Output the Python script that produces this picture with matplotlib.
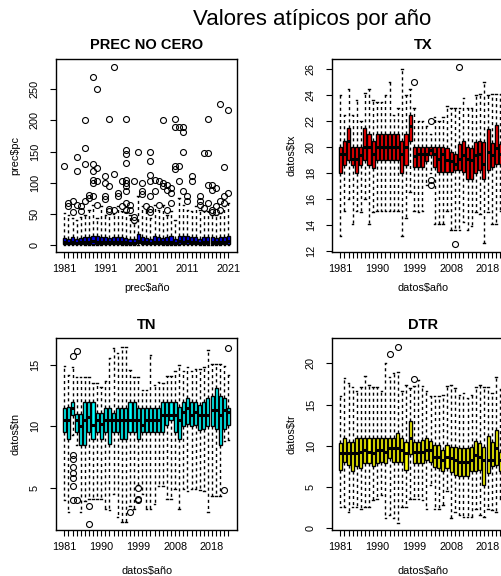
import matplotlib
matplotlib.use("Agg")
import matplotlib.pyplot as plt

plt.rcParams['font.family'] = ['Liberation Sans', 'DejaVu Sans']

# ---- datos ----
# PREC NO CERO: 1981-2021
prec_years = list(range(1981, 2022))
prec_lo = [0.1, 0.1, 0.2, 0.1, 0.1, 0.1, 0.2, 0.1, 0.1, 0.1, 0.1, 0.2, 0.1, 0.1, 0.1, 0.1, 0.2, 0.1, 0.1, 0.1, 0.1,
           0.1, 0.2, 0.1, 0.1, 0.1, 0.1, 0.2, 0.1, 0.1, 0.1, 0.1, 0.1, 0.2, 0.1, 0.1, 0.1, 0.1, 0.1, 0.2, 0.1]
prec_q1 = [1.5, 1.5, 2.0, 1.5, 1.5, 2.0, 2.0, 2.0, 2.0, 1.5, 2.0, 1.5, 1.5, 2.0, 1.5, 1.5, 1.5, 1.5, 2.5, 2.0, 1.5,
           1.5, 2.0, 1.5, 1.5, 2.0, 2.0, 1.5, 2.0, 2.0, 2.0, 2.0, 1.5, 1.5, 1.5, 2.0, 1.5, 1.5, 1.5, 2.0, 2.0]
prec_med = [4.0, 3.5, 4.5, 3.5, 4.0, 5.0, 4.5, 5.5, 5.0, 4.5, 5.0, 4.0, 4.5, 5.0, 4.5, 4.0, 3.5, 3.5, 6.0, 5.0, 4.0,
            3.5, 5.0, 4.5, 4.0, 5.0, 5.0, 3.5, 5.5, 5.0, 5.5, 5.0, 4.5, 3.5, 4.5, 5.0, 4.5, 4.0, 4.5, 5.0, 5.5]
prec_q3 = [11, 10, 12, 10, 11, 13, 12, 15, 14, 12, 13, 11, 12, 13, 12, 11, 10, 9, 17, 13, 11,
           10, 14, 12, 11, 13, 14, 10, 15, 14, 15, 13, 12, 10, 12, 13, 12, 11, 12, 13, 15]
prec_hi = [51, 48, 43, 40, 45, 48, 56, 64, 43, 62, 48, 50, 50, 62, 54, 52, 48, 35, 78, 62, 56,
           43, 64, 56, 64, 48, 54, 40, 75, 64, 56, 54, 62, 56, 55, 54, 48, 48, 51, 62, 67]
prec_out = {
    1981: [126], 1982: [68, 63], 1983: [71, 52], 1984: [119, 141, 64], 1985: [62, 55],
    1986: [200, 155, 130, 70], 1987: [80, 75], 1988: [270, 130, 118, 104, 100, 79],
    1989: [250, 124, 102, 64], 1991: [111, 99, 78, 73], 1992: [203, 94, 58, 54],
    1993: [286, 114, 56], 1994: [83, 78], 1995: [102, 63],
    1996: [203, 153, 146, 132, 105, 100, 94, 87, 67, 56], 1997: [64, 56], 1998: [102, 45, 40],
    1999: [150], 2000: [100, 86, 81], 2001: [63], 2002: [150, 135, 112, 102, 78, 58, 52],
    2003: [105, 86], 2004: [102, 64], 2005: [200, 99, 94], 2006: [96, 88, 56], 2007: [91, 83, 68],
    2008: [202, 190, 126, 122], 2009: [190, 126, 102], 2010: [190, 182, 150, 86], 2011: [78, 71],
    2012: [111, 102], 2014: [78, 70, 64], 2015: [148, 59], 2016: [202, 148, 96, 67],
    2017: [96, 88, 56, 52], 2018: [91, 62, 52], 2019: [226, 71, 56], 2020: [125, 78, 67], 2021: [217, 83],
}

# TX, TN, DTR: 41 anos (1981-2022, falta 2012)
t_years = list(range(1981, 2012)) + list(range(2013, 2023))

tx_lo = [13.1, 15.1, 16.0, 14.1, 15.1, 15.0, 16.0, 14.1, 15.0, 15.1, 15.1, 15.1, 15.1, 15.1, 15.1, 13.1, 14.5,
         16.5, 15.1, 15.0, 15.1, 17.1, 18.0, 14.1, 14.1, 14.1, 15.1, 13.6, 13.6, 13.6, 14.2, 13.6, 13.9, 15.0,
         14.8, 12.6, 15.0, 14.1, 14.1, 15.1, 15.0]
tx_q1 = [18.0, 18.6, 19.0, 18.6, 18.0, 18.6, 19.0, 18.6, 18.4, 19.0, 19.0, 19.0, 19.0, 19.0, 19.0, 18.0, 18.6,
         20.5, 18.5, 18.5, 18.5, 18.9, 19.4, 18.5, 18.1, 18.1, 18.1, 18.1, 18.2, 18.2, 18.1, 17.5, 17.5, 18.0,
         18.2, 17.5, 18.2, 18.5, 18.7, 18.7, 18.5]
tx_med = [19.5, 19.5, 20.5, 19.1, 19.1, 19.4, 20.0, 20.0, 19.5, 20.0, 20.0, 20.0, 20.0, 20.0, 20.0, 19.5, 20.0,
          21.6, 19.3, 19.5, 19.5, 19.5, 19.8, 19.5, 19.1, 19.5, 19.0, 18.9, 18.7, 19.1, 19.4, 19.1, 19.0, 19.4,
          19.5, 18.7, 19.6, 19.4, 19.9, 19.5, 19.5]
tx_q3 = [20.0, 20.5, 21.5, 20.0, 20.0, 20.0, 21.5, 21.0, 20.5, 21.0, 21.0, 21.0, 21.0, 21.0, 21.0, 20.5, 21.0,
         22.5, 20.0, 20.0, 20.0, 20.0, 20.0, 20.0, 20.0, 20.0, 19.9, 19.6, 19.5, 20.2, 20.5, 20.0, 19.9, 20.4,
         20.5, 20.4, 21.4, 20.3, 21.7, 20.2, 20.5]
tx_hi = [24.0, 22.5, 24.5, 22.5, 23.6, 22.0, 24.2, 24.5, 23.6, 23.5, 23.5, 24.0, 25.0, 22.5, 23.0, 26.0, 24.0,
         24.5, 23.0, 22.0, 22.0, 21.6, 21.0, 22.3, 22.0, 22.3, 23.2, 23.0, 23.0, 23.0, 23.8, 23.0, 23.0, 24.0,
         24.1, 25.0, 24.0, 24.1, 24.1, 24.1, 24.0]
tx_out = {1999: [25.0], 2003: [22.0, 17.45, 17.1], 2009: [12.5], 2010: [26.2]}

tn_lo = [4.0, 3.0, 9.3, 8.5, 3.0, 3.9, 4.1, 4.1, 4.1, 4.1, 3.3, 3.2, 4.5, 2.6, 2.2, 2.2, 3.5, 3.3, 5.2, 4.5,
         3.3, 3.3, 3.7, 5.1, 5.1, 4.1, 4.1, 4.9, 3.3, 4.9, 4.7, 4.9, 4.9, 4.8, 4.7, 3.0, 4.3, 4.3, 4.3, 8.8, 8.9]
tn_q1 = [9.55, 9.0, 10.9, 9.5, 8.5, 8.5, 9.55, 9.0, 9.55, 9.0, 9.55, 8.6, 9.5, 9.55, 9.0, 9.0, 9.55, 9.55, 9.0,
         9.55, 9.55, 9.55, 9.55, 9.55, 9.55, 10.1, 10.5, 9.55, 9.0, 10.0, 10.2, 10.0, 10.1, 9.7, 9.8, 10.0,
         10.0, 9.8, 8.5, 9.8, 10.1]
tn_med = [10.5, 10.5, 11.5, 10.5, 10.0, 10.5, 10.8, 10.1, 10.5, 10.2, 10.5, 10.5, 10.5, 10.5, 10.5, 10.5, 10.5,
          10.5, 10.5, 10.1, 10.5, 10.5, 10.5, 10.5, 10.9, 10.9, 10.9, 10.9, 10.5, 11.2, 11.5, 10.9, 11.2, 10.9,
          10.9, 10.9, 11.3, 11.3, 10.9, 11.3, 11.2]
tn_q3 = [11.5, 11.6, 12.0, 11.0, 11.0, 12.0, 12.0, 12.0, 11.1, 11.1, 11.5, 11.5, 11.1, 11.5, 11.5, 11.5, 12.0,
         12.0, 11.5, 11.5, 11.5, 11.5, 11.5, 11.5, 12.0, 12.0, 12.0, 12.0, 11.6, 12.0, 12.3, 12.0, 12.0, 11.7,
         12.0, 12.3, 12.5, 13.1, 12.5, 12.3, 11.5]
tn_hi = [14.9, 14.2, 14.8, 14.0, 14.0, 14.0, 14.0, 13.5, 13.5, 13.2, 13.7, 15.6, 16.4, 16.0, 16.5, 16.5, 14.6,
         14.0, 14.0, 13.0, 13.0, 15.8, 13.4, 13.6, 13.5, 14.1, 14.1, 14.5, 15.0, 14.5, 14.8, 14.5, 14.7, 14.7,
         14.8, 16.2, 15.1, 15.1, 15.1, 14.9, 14.2]
tn_out = {1983: [15.7, 7.7, 7.3, 6.7, 6.2, 5.8, 5.1, 4.0], 1984: [16.1, 4.0], 1987: [3.5, 2.0],
          1997: [3.0], 1999: [5.0, 4.1, 4.0], 2021: [4.8], 2022: [16.4]}

dtr_lo = [2.6, 2.6, 2.0, 2.6, 2.6, 2.4, 2.6, 2.6, 3.4, 3.6, 4.0, 1.2, 1.6, 1.2, 0.6, 2.6, 2.6, 3.5, 3.6, 3.6,
          3.4, 2.4, 5.3, 2.4, 2.4, 2.8, 4.5, 1.2, 2.0, 1.6, 1.4, 1.4, 1.4, 2.4, 1.6, 1.4, 2.4, 2.2, 2.0, 3.6, 2.5]
dtr_q1 = [7.1, 8.1, 7.7, 6.9, 7.5, 7.3, 7.9, 7.9, 7.5, 7.9, 8.1, 7.9, 8.5, 8.1, 8.1, 8.1, 7.1, 9.0, 7.9, 7.9,
          7.9, 8.3, 8.1, 7.4, 7.3, 6.9, 7.3, 6.8, 6.5, 6.3, 6.3, 6.3, 6.9, 6.9, 7.1, 5.3, 6.7, 7.5, 7.7, 6.9, 7.0]
dtr_med = [9.1, 9.1, 9.1, 9.1, 9.1, 9.3, 9.5, 9.3, 9.1, 9.5, 9.5, 9.3, 9.7, 9.7, 9.7, 9.5, 9.1, 11.0, 9.3, 9.3,
           9.3, 9.5, 9.5, 8.7, 8.7, 8.3, 8.7, 8.5, 8.3, 8.1, 8.1, 8.1, 8.3, 8.9, 8.7, 8.3, 8.3, 8.3, 9.7, 8.3, 8.5]
dtr_q3 = [10.4, 10.9, 10.5, 10.5, 10.9, 10.9, 10.9, 10.9, 10.9, 10.9, 10.9, 10.9, 10.9, 10.9, 11.5, 10.9, 10.5,
          13.0, 10.5, 10.5, 10.7, 11.0, 10.6, 10.1, 10.1, 9.5, 10.1, 9.8, 9.9, 9.7, 9.7, 9.7, 9.9, 10.6, 10.3,
          9.9, 11.2, 10.5, 11.9, 9.3, 10.0]
dtr_hi = [16.0, 18.2, 17.6, 17.1, 16.6, 17.1, 18.5, 17.4, 17.1, 17.1, 16.6, 20.1, 18.4, 18.8, 19.0, 16.6, 17.4,
          17.0, 17.2, 18.0, 17.2, 16.6, 16.1, 16.0, 16.0, 16.2, 17.2, 17.4, 17.0, 16.2, 16.4, 15.8, 16.2, 17.1,
          17.4, 17.1, 17.1, 16.4, 18.4, 16.9, 17.0]
dtr_out = {1993: [21.1], 1995: [22.0], 1999: [18.1]}


def panel(rect, years, lo, q1, med, q3, hi, outs, color, title, ylabel, xlabel,
          yticks, ylim, label_every, xlab_y, title_y):
    ax = fig.add_axes(rect)
    stats = []
    for i, yr in enumerate(years):
        stats.append(dict(whislo=lo[i], q1=q1[i], med=med[i], q3=q3[i],
                          whishi=hi[i], fliers=outs.get(yr, [])))
    pos = list(range(1, len(years) + 1))
    ax.bxp(stats, positions=pos, widths=0.75, patch_artist=True,
           boxprops=dict(facecolor=color, edgecolor='black', linewidth=1.0),
           medianprops=dict(color='black', linewidth=2.2, solid_capstyle='butt'),
           whiskerprops=dict(color='black', linestyle=(0, (2.2, 2.2)), linewidth=1.0),
           capprops=dict(color='black', linewidth=1.0), capwidths=0.38,
           flierprops=dict(marker='o', markerfacecolor='none', markeredgecolor='black',
                           markersize=4.3, markeredgewidth=0.8))
    ax.set_xlim(-0.9, 43.2)
    ax.set_ylim(*ylim)
    ax.set_xticks(pos)
    ax.set_xticklabels([str(y) if i % label_every == 0 else '' for i, y in enumerate(years)])
    ax.set_yticks(yticks)
    ax.set_yticklabels([str(t) for t in yticks])
    plt.setp(ax.get_yticklabels(), rotation=90, va='center')
    ax.tick_params(axis='both', direction='out', length=4, width=0.8, labelsize=7.8, color='black')
    ax.tick_params(axis='x', pad=5)
    ax.tick_params(axis='y', pad=8)
    for s in ax.spines.values():
        s.set_linewidth(1.0)
    ax.set_ylabel(ylabel, fontsize=7.8)
    ax.set_xlabel(xlabel, fontsize=7.8)
    ax.yaxis.set_label_coords(-0.2, 0.5)
    ax.xaxis.set_label_coords(0.5, xlab_y)
    ax.text(0.5, title_y, title, transform=ax.transAxes, ha='center', va='center',
            fontsize=10.5, fontweight='bold')
    return ax


fig = plt.figure(figsize=(5.02, 5.76), dpi=100)

W, H = 502.0, 576.0
top = [None, 1 - 252 / H, 181 / W, 193 / H]
bot = [None, 1 - 530 / H, 181 / W, 192 / H]

panel([56.5 / W] + top[1:], prec_years, prec_lo, prec_q1, prec_med, prec_q3, prec_hi, prec_out,
      'blue', 'PREC NO CERO', r'prec\$pc', r'prec\$año', [0, 50, 100, 150, 200, 250],
      (-11.5, 298.7), 10, -0.16, 1.0725)
panel([332.5 / W] + top[1:], t_years, tx_lo, tx_q1, tx_med, tx_q3, tx_hi, tx_out,
      'red', 'TX', r'datos\$tx', r'datos\$año', list(range(12, 27, 2)),
      (11.9, 26.8), 9, -0.16, 1.0725)
panel([56.5 / W] + bot[1:], t_years, tn_lo, tn_q1, tn_med, tn_q3, tn_hi, tn_out,
      'cyan', 'TN', r'datos\$tn', r'datos\$año', [5, 10, 15],
      (1.55, 17.2), 9, -0.1875, 1.068)
panel([332.5 / W] + bot[1:], t_years, dtr_lo, dtr_q1, dtr_med, dtr_q3, dtr_hi, dtr_out,
      'yellow', 'DTR', r'datos\$tr', r'datos\$año', [0, 5, 10, 15, 20],
      (-0.2, 23.07), 9, -0.1875, 1.068)

fig.text(312 / W, 1 - 20 / H, 'Valores atípicos por año', ha='center', va='center', fontsize=16)

fig.savefig('out.png', dpi=100)
